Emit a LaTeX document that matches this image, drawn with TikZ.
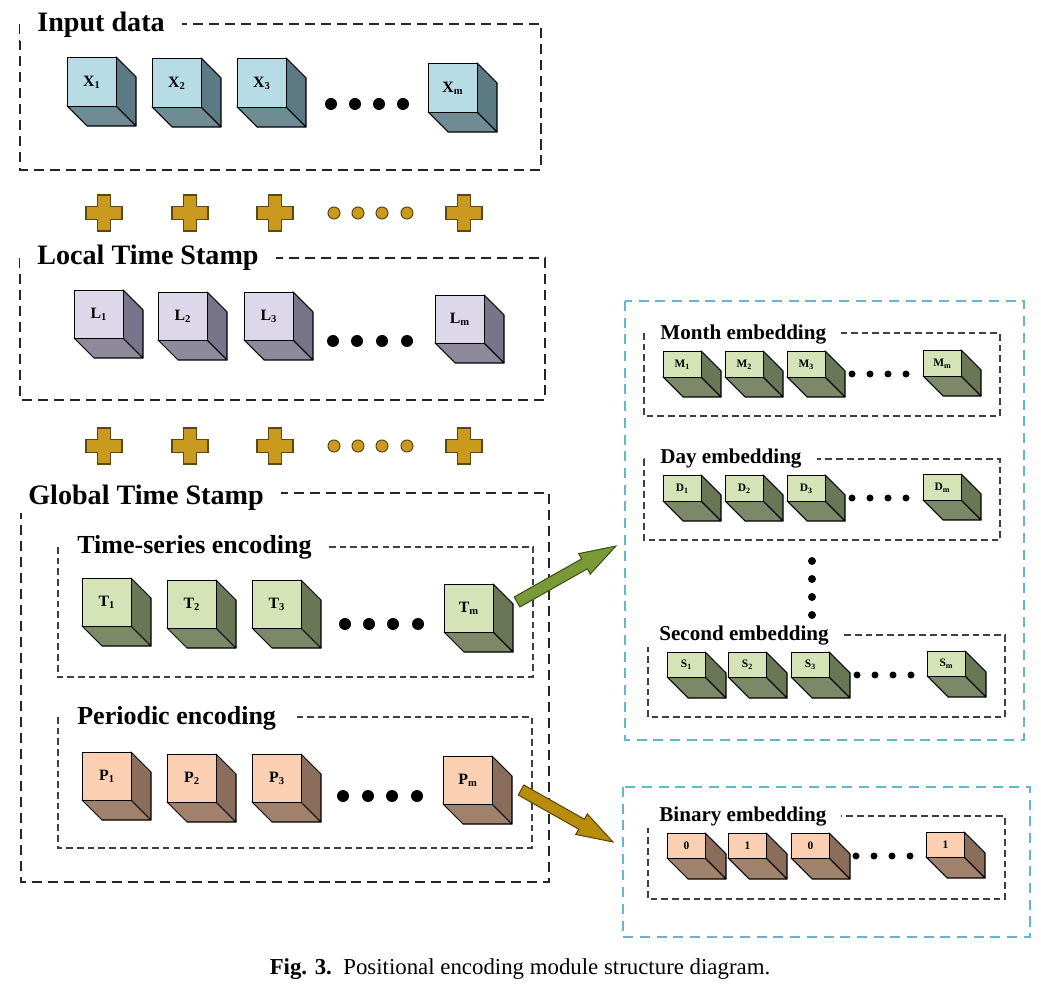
\documentclass[tikz,border=0pt]{standalone}
\usepackage{fontspec}
\setmainfont{Liberation Serif}
\usepackage{tikz}
\usetikzlibrary{calc,shapes.arrows}
\newlength{\pixel}\setlength{\pixel}{0.02cm}
\definecolor{xcfront}{HTML}{B8DCE5}\definecolor{xcside}{HTML}{5C7A83}\definecolor{xcbot}{HTML}{6F8C94}
\definecolor{lcfront}{HTML}{DCD7E9}\definecolor{lcside}{HTML}{78748A}\definecolor{lcbot}{HTML}{8E8A9B}
\definecolor{gcfront}{HTML}{D5E3B7}\definecolor{gcside}{HTML}{6A7757}\definecolor{gcbot}{HTML}{7C8867}
\definecolor{pcfront}{HTML}{FBCFB2}\definecolor{pcside}{HTML}{8A6E5B}\definecolor{pcbot}{HTML}{9F816C}
\definecolor{plusfill}{HTML}{C99A1D}\definecolor{plusline}{HTML}{5E4812}
\definecolor{garrowfill}{HTML}{7A9A38}\definecolor{garrowline}{HTML}{3F4F1A}
\definecolor{oarrowfill}{HTML}{B78D0B}\definecolor{oarrowline}{HTML}{5C4600}
\definecolor{cyanline}{HTML}{63B6CC}
\tikzset{
  outerbox/.style={draw=black!85, line width=0.9pt, dash pattern=on 5.7pt off 3.4pt},
  innerbox/.style={draw=black!75, line width=0.6pt, dash pattern=on 3.8pt off 2.3pt},
  cyanbox/.style={draw=cyanline, line width=0.9pt, dash pattern=on 5.7pt off 3.8pt},
  ttl/.style={font=\bfseries\fontsize{16}{18}\selectfont, fill=white, inner xsep=17\pixel, inner ysep=3\pixel, anchor=base west},
  subttl/.style={font=\bfseries\fontsize{14.8}{17}\selectfont, fill=white, inner xsep=17\pixel, inner ysep=3\pixel, anchor=base west},
  embttl/.style={font=\bfseries\fontsize{12}{14}\selectfont, fill=white, inner xsep=15\pixel, inner ysep=2\pixel, anchor=base west},
  cubeedge/.style={draw=black, line width=0.6pt, line join=round},
  cubeface/.style={draw=black, line width=0.6pt, inner sep=0pt, font=\bfseries\fontsize{9}{10}\selectfont},
  plussign/.style={draw=plusline, fill=plusfill, line width=0.6pt},
  blockarrow/.style={single arrow, line width=0.6pt, inner xsep=0pt, inner ysep=5.2\pixel, outer sep=0pt, single arrow head extend=6\pixel, single arrow tip angle=36, anchor=tail},
  garrow/.style={blockarrow, draw=garrowline, fill=garrowfill},
  oarrow/.style={blockarrow, draw=oarrowline, fill=oarrowfill}
}
% name, x, y, width, height, depth, colour, label
\newcommand{\cube}[8]{%
  \filldraw[cubeedge, fill=#7bot] (#2,#3+#5) -- (#2+#4,#3+#5) -- (#2+#4+#6,#3+#5+#6) -- (#2+#6,#3+#5+#6) -- cycle;
  \filldraw[cubeedge, fill=#7side] (#2+#4,#3) -- (#2+#4+#6,#3+#6) -- (#2+#4+#6,#3+#5+#6) -- (#2+#4,#3+#5) -- cycle;
  \node[cubeface, fill=#7front, minimum width=#4\pixel, minimum height=#5\pixel, anchor=north west] (#1) at (#2,#3) {#8};}
\newcommand{\plus}[2]{\filldraw[plussign] (#1-6.5,#2-18) -- (#1+6.5,#2-18) -- (#1+6.5,#2-6.5) -- (#1+18,#2-6.5) -- (#1+18,#2+6.5) -- (#1+6.5,#2+6.5) -- (#1+6.5,#2+18) -- (#1-6.5,#2+18) -- (#1-6.5,#2+6.5) -- (#1-18,#2+6.5) -- (#1-18,#2-6.5) -- (#1-6.5,#2-6.5) -- cycle;}
\newcommand{\ring}[2]{\filldraw[plussign] (#1,#2) circle (6);}

\begin{document}
\begin{tikzpicture}[x=0.02cm, y=-0.02cm]
			%%%%% START %%%%%
			\useasboundingbox (0,0) rectangle (1041,996);
			
			% input data
			\draw[outerbox] (20,24) rectangle (541,170);
			\node[ttl] (ttlin) at (20,32) {Input data};
			\cube{x1}{67}{57}{49}{49}{20}{xc}{X\textsubscript{1}}
			\cube{x2}{152}{58}{49}{49}{20}{xc}{X\textsubscript{2}}
			\cube{x3}{237}{58}{49}{49}{20}{xc}{X\textsubscript{3}}
			\cube{xm}{428}{63}{49}{49}{20}{xc}{X\textsubscript{m}}
			\fill (331,104) circle (6); \fill (355,104) circle (6); \fill (379,104) circle (6); \fill (403,104) circle (6);
			
			\plus{104}{213} \plus{190}{213} \plus{275}{213} \plus{464}{213}
			\ring{334}{213} \ring{358}{213} \ring{382}{213} \ring{407}{213}
			
			% local time stamp
			\draw[outerbox] (20,258) rectangle (545,400);
			\node[ttl] (ttlloc) at (20,265) {Local Time Stamp};
			\cube{l1}{74}{290}{49}{48}{20}{lc}{L\textsubscript{1}}
			\cube{l2}{158}{292}{49}{48}{20}{lc}{L\textsubscript{2}}
			\cube{l3}{244}{292}{49}{48}{20}{lc}{L\textsubscript{3}}
			\cube{lm}{435}{295}{49}{48}{20}{lc}{L\textsubscript{m}}
			\fill (333,341) circle (6); \fill (357,341) circle (6); \fill (382,341) circle (6); \fill (407,341) circle (6);
			
			\plus{104}{446} \plus{190}{446} \plus{275}{446} \plus{464}{446}
			\ring{334}{446} \ring{358}{446} \ring{382}{446} \ring{407}{446}
			
			% global time stamp
			\draw[outerbox] (21,493) rectangle (549,882);
			\node[ttl] (ttlglob) at (11,504) {Global Time Stamp};
			\draw[innerbox] (58,547) rectangle (533,677);
			\node[subttl] (ttlts) at (60,553) {Time-series encoding};
			\cube{t1}{82}{578}{49}{48}{20}{gc}{T\textsubscript{1}}
			\cube{t2}{167}{580}{49}{48}{20}{gc}{T\textsubscript{2}}
			\cube{t3}{252}{580}{49}{48}{20}{gc}{T\textsubscript{3}}
			\cube{tm}{444}{584}{49}{48}{20}{gc}{T\textsubscript{m}}
			\fill (345,624) circle (6); \fill (369,624) circle (6); \fill (393,624) circle (6); \fill (418,624) circle (6);
			
			\draw[innerbox] (58,717) rectangle (532,848);
			\node[subttl] (ttlper) at (60,724) {Periodic encoding};
			\cube{p1}{82}{752}{49}{48}{20}{pc}{P\textsubscript{1}}
			\cube{p2}{167}{754}{49}{48}{20}{pc}{P\textsubscript{2}}
			\cube{p3}{252}{754}{49}{48}{20}{pc}{P\textsubscript{3}}
			\cube{pm}{443}{756}{49}{48}{20}{pc}{P\textsubscript{m}}
			\fill (343,796) circle (6); \fill (368,796) circle (6); \fill (392,796) circle (6); \fill (417,796) circle (6);
			
			% embeddings
			\begin{scope}[cubeface/.append style={font=\bfseries\fontsize{6.5}{7}\selectfont}]
			\draw[cyanbox] (625,301) rectangle (1024,740);
			\coordinate (embbox) at (625,301);
			\draw[innerbox] (644,333) rectangle (1000,416);
			\node[embttl] (ttlmon) at (645,340) {Month embedding};
			\cube{m1}{663}{351}{38}{26}{20}{gc}{M\textsubscript{1}}
			\cube{m2}{725}{351}{38}{26}{20}{gc}{M\textsubscript{2}}
			\cube{m3}{787}{351}{38}{26}{20}{gc}{M\textsubscript{3}}
			\cube{mm}{923}{350}{38}{26}{20}{gc}{M\textsubscript{m}}
			\fill (852,374) circle (3.5); \fill (870,374) circle (3.5); \fill (888,374) circle (3.5); \fill (906,374) circle (3.5);
			
			\draw[innerbox] (644,459) rectangle (1000,540);
			\node[embttl] (ttlday) at (645,464) {Day embedding};
			\cube{d1}{663}{475}{38}{26}{20}{gc}{D\textsubscript{1}}
			\cube{d2}{725}{475}{38}{26}{20}{gc}{D\textsubscript{2}}
			\cube{d3}{787}{475}{38}{26}{20}{gc}{D\textsubscript{3}}
			\cube{dm}{923}{474}{38}{26}{20}{gc}{D\textsubscript{m}}
			\fill (852,498) circle (3.5); \fill (870,498) circle (3.5); \fill (888,498) circle (3.5); \fill (906,498) circle (3.5);
			
			\fill (812,561) circle (4); \fill (812,579) circle (4); \fill (812,597) circle (4); \fill (812,615) circle (4);
			
			\draw[innerbox] (648,635) rectangle (1005,717);
			\node[embttl] (ttlsec) at (644,640) {Second embedding};
			\cube{s1}{667}{652}{38}{25}{21}{gc}{S\textsubscript{1}}
			\cube{s2}{728}{652}{38}{25}{21}{gc}{S\textsubscript{2}}
			\cube{s3}{791}{652}{38}{25}{21}{gc}{S\textsubscript{3}}
			\cube{sm}{927}{651}{38}{25}{21}{gc}{S\textsubscript{m}}
			\fill (857,675) circle (3.5); \fill (875,675) circle (3.5); \fill (893,675) circle (3.5); \fill (911,675) circle (3.5);
			
			\draw[cyanbox] (623,787) rectangle (1030,937);
			\coordinate (binbox) at (623,787);
			\draw[innerbox] (648,816) rectangle (1005,899);
			\node[embttl] (ttlbin) at (644,821) {Binary embedding};
			\cube{b1}{667}{833}{38}{25}{21}{pc}{0}
			\cube{b2}{728}{833}{38}{25}{21}{pc}{1}
			\cube{b3}{791}{833}{38}{25}{21}{pc}{0}
			\cube{bm}{926}{832}{38}{25}{21}{pc}{1}
			\fill (856,856) circle (3.5); \fill (874,856) circle (3.5); \fill (892,856) circle (3.5); \fill (910,856) circle (3.5);
			\end{scope}
			
			% arrows
			\coordinate (gtail) at ($(tm.north east)+(23,18)$);
			\coordinate (ghead) at ($(embbox)+(-9,245)$);
			\path let \p1=(gtail), \p2=(ghead), \n1={atan2(\y2-\y1,\x2-\x1)}, \n2={veclen(\x2-\x1,\y2-\y1)} in
				node[garrow, rotate=\n1, minimum height=\n2] (garr) at (gtail) {};
			\coordinate (otail) at ($(pm.north east)+(28,34)$);
			\coordinate (ohead) at ($(binbox)+(-10,55)$);
			\path let \p1=(otail), \p2=(ohead), \n1={atan2(\y2-\y1,\x2-\x1)}, \n2={veclen(\x2-\x1,\y2-\y1)} in
				node[oarrow, rotate=\n1, minimum height=\n2] (oarr) at (otail) {};
			
			\node[font=\fontsize{13}{15}\selectfont] (caption) at (520,969) {\textbf{Fig. 3.}\hspace{0.5em}Positional encoding module structure diagram.};
			%%%%% END %%%%%
\end{tikzpicture}
\end{document}
